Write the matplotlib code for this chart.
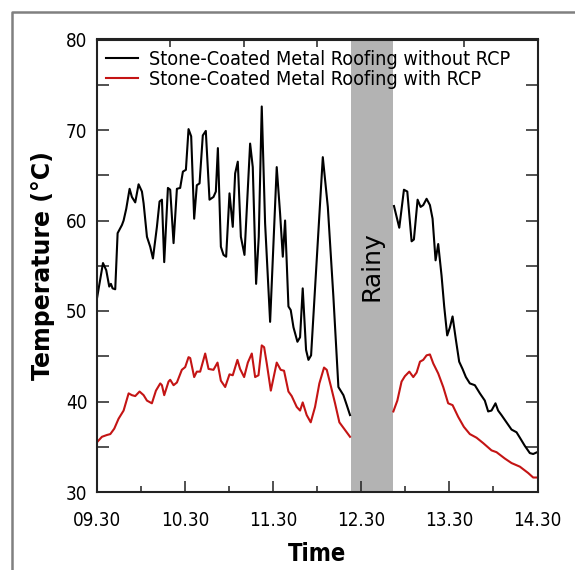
import matplotlib
matplotlib.use("Agg")
import matplotlib.pyplot as plt
from matplotlib.lines import Line2D
from matplotlib.ticker import MultipleLocator
import matplotlib.transforms as mtrans

# ---- data (time in decimal hours, 9.5 = 09.30) ----
start_hour = 9.5
black1_h = [0.000, 0.068, 0.105, 0.139, 0.158, 0.177, 0.207, 0.234, 0.283, 0.302, 0.332, 0.370,
            0.396, 0.434, 0.472, 0.510, 0.529, 0.567, 0.604, 0.635, 0.680, 0.710, 0.737, 0.763,
            0.805, 0.831, 0.869, 0.907, 0.944, 0.975, 1.009, 1.039, 1.069, 1.103, 1.133, 1.164,
            1.201, 1.235, 1.277, 1.322, 1.349, 1.372, 1.406, 1.436, 1.466, 1.504, 1.541, 1.568,
            1.598, 1.633, 1.674, 1.738, 1.768, 1.806, 1.836, 1.870, 1.908, 1.965, 2.040, 2.078,
            2.109, 2.135, 2.173, 2.199, 2.230, 2.275, 2.305, 2.335, 2.373, 2.400, 2.430, 2.487,
            2.563, 2.620, 2.683, 2.740, 2.797, 2.835, 2.872]
black1_T = [51.4, 55.3, 54.5, 52.7, 53.0, 52.5, 52.4, 58.6, 59.5, 60.0, 61.3, 63.5,
            62.6, 62.0, 64.0, 63.2, 61.9, 58.2, 57.1, 55.8, 59.3, 62.1, 62.3, 55.4,
            63.6, 63.4, 57.5, 63.5, 63.6, 65.4, 65.6, 70.1, 69.3, 60.2, 63.9, 64.1,
            69.4, 69.9, 62.3, 62.6, 63.2, 68.0, 57.1, 56.2, 56.0, 63.0, 59.3, 65.2,
            66.5, 58.2, 56.2, 68.5, 65.9, 53.0, 58.2, 72.6, 59.7, 48.8, 65.9, 60.8,
            56.0, 60.0, 50.5, 50.1, 48.2, 46.6, 47.1, 52.5, 45.7, 44.6, 45.1, 54.5,
            67.0, 61.5, 51.6, 41.6, 40.7, 39.6, 38.5]
black2_h = [3.371, 3.431, 3.484, 3.522, 3.571, 3.597, 3.639, 3.673, 3.703, 3.741, 3.779, 3.809,
            3.843, 3.873, 3.911, 3.941, 3.975, 4.006, 4.036, 4.074, 4.111, 4.149, 4.187, 4.232,
            4.289, 4.346, 4.402, 4.440, 4.478, 4.523, 4.553, 4.591, 4.648, 4.705, 4.762, 4.800,
            4.856, 4.913, 4.951, 4.996]
black2_T = [61.6, 59.2, 63.4, 63.2, 57.7, 57.9, 62.3, 61.5, 61.7, 62.4, 61.7, 60.2,
            55.6, 57.4, 53.9, 50.5, 47.3, 48.2, 49.4, 46.8, 44.4, 43.6, 42.7, 42.0,
            41.8, 40.9, 40.1, 38.9, 39.0, 39.8, 39.0, 38.5, 37.7, 36.9, 36.6, 36.0,
            35.1, 34.3, 34.2, 34.4]
red1_h = [0.000, 0.056, 0.113, 0.151, 0.196, 0.245, 0.302, 0.359, 0.396, 0.434, 0.483, 0.529,
          0.567, 0.623, 0.669, 0.718, 0.737, 0.763, 0.812, 0.831, 0.869, 0.907, 0.963, 1.001,
          1.039, 1.058, 1.103, 1.133, 1.171, 1.228, 1.266, 1.322, 1.368, 1.406, 1.455, 1.504,
          1.541, 1.594, 1.624, 1.670, 1.712, 1.757, 1.795, 1.833, 1.870, 1.897, 1.927, 1.973,
          2.040, 2.085, 2.123, 2.173, 2.210, 2.267, 2.305, 2.335, 2.380, 2.426, 2.475, 2.524,
          2.577, 2.608, 2.657, 2.702, 2.751, 2.804, 2.872]
red1_T = [35.5, 36.1, 36.3, 36.4, 37.0, 38.1, 39.0, 40.9, 40.7, 40.6, 41.1, 40.7,
          40.1, 39.8, 41.2, 42.0, 41.8, 40.7, 42.2, 42.4, 41.8, 42.1, 43.5, 43.8,
          44.9, 44.8, 42.7, 43.3, 43.3, 45.3, 43.6, 43.5, 44.3, 42.3, 41.6, 43.0,
          42.9, 44.6, 43.6, 42.7, 44.3, 45.3, 42.7, 42.9, 46.2, 46.0, 44.2, 41.2,
          44.3, 43.5, 43.4, 41.1, 40.6, 39.4, 39.0, 39.9, 38.5, 37.7, 39.4, 42.0,
          43.75, 43.5, 41.6, 39.8, 37.7, 37.0, 36.1]
red2_h = [3.364, 3.409, 3.457, 3.495, 3.545, 3.590, 3.628, 3.666, 3.703, 3.741, 3.779, 3.817,
          3.873, 3.930, 3.986, 4.036, 4.100, 4.164, 4.232, 4.308, 4.384, 4.478, 4.535, 4.629,
          4.705, 4.800, 4.894, 4.951, 4.996]
red2_T = [38.9, 40.1, 42.2, 42.8, 43.3, 42.7, 43.2, 44.4, 44.6, 45.1, 45.2, 44.2,
          43.1, 41.6, 39.8, 39.6, 38.3, 37.2, 36.4, 36.0, 35.4, 34.6, 34.4, 33.7,
          33.2, 32.8, 32.1, 31.6, 31.6]

rainy_span = [12.38, 12.86]
xtick_vals = [9.5, 10.5, 11.5, 12.5, 13.5, 14.5]
xtick_labels = ["09.30", "10.30", "11.30", "12.30", "13.30", "14.30"]
series_labels = ["Stone-Coated Metal Roofing without RCP", "Stone-Coated Metal Roofing with RCP"]
BLACK = "#000000"
RED = "#c41414"

def to_t(hs):
    return [start_hour + h for h in hs]

fig = plt.figure(figsize=(5.75, 5.70), dpi=100)
ax = fig.add_axes([97/575, 1 - 492/570, 440.5/575, 452.5/570])

ax.axvspan(rainy_span[0], rainy_span[1], color="#b3b3b3", lw=0, zorder=1)
ax.text((rainy_span[0] + rainy_span[1]) / 2, 0.5, "Rainy", rotation=90,
        ha="center", va="center", fontsize=18, family="DejaVu Sans",
        transform=mtrans.blended_transform_factory(ax.transData, ax.transAxes), zorder=3)

lw = 1.5
ax.plot(to_t(black1_h), black1_T, color=BLACK, lw=lw, label=series_labels[0], zorder=4)
ax.plot(to_t(black2_h), black2_T, color=BLACK, lw=lw, zorder=4)
ax.plot(to_t(red1_h), red1_T, color=RED, lw=lw, label=series_labels[1], zorder=4)
ax.plot(to_t(red2_h), red2_T, color=RED, lw=lw, zorder=4)

ax.set_xlim(9.5, 14.5)
ax.set_ylim(30, 80)
ax.set_xticks(xtick_vals)
ax.set_xticklabels(xtick_labels)
ax.xaxis.set_minor_locator(MultipleLocator(0.5))
ax.yaxis.set_major_locator(MultipleLocator(10))
ax.yaxis.set_minor_locator(MultipleLocator(5))

spine_c = "#222222"
for s in ax.spines.values():
    s.set_linewidth(1.5)
    s.set_color(spine_c)
    s.set_zorder(5)

ax.tick_params(axis="x", which="major", direction="in", length=8, width=1.1, top=False,
               bottom=True, pad=14, labelsize=13.5, color=spine_c)
ax.tick_params(axis="x", which="minor", direction="in", length=4.3, width=1.1, top=False,
               bottom=True, color=spine_c)
ax.tick_params(axis="y", which="both", direction="in", length=8.5, width=1.1, left=True,
               right=True, pad=7, labelsize=13.5, color=spine_c)
for lab in ax.get_xticklabels() + ax.get_yticklabels():
    lab.set_fontstretch("condensed")

sec = ax.secondary_xaxis("top")
sec.set_xticks([9.5 + k * 5 / 6 for k in range(1, 6)])
sec.set_xticklabels([])
sec.tick_params(direction="in", length=6, width=1.1, color=spine_c)
sec.spines["top"].set_linewidth(1.5)
sec.spines["top"].set_color(spine_c)

ax.set_xlabel("Time", fontsize=17, fontweight="bold", fontstretch="condensed", labelpad=8)
ax.set_ylabel("Temperature (°C)", fontsize=17, fontweight="bold", labelpad=8)

leg = ax.legend(loc="upper left", bbox_to_anchor=(7/440.5, 1 - 8.5/452.5), borderaxespad=0,
                frameon=True, fancybox=False, framealpha=0, edgecolor="#111111",
                prop={"size": 14.2, "stretch": "condensed"}, handlelength=1.6,
                handletextpad=0.55, labelspacing=0.05, borderpad=0.12)
leg.get_frame().set_linewidth(1.3)
leg.set_zorder(6)

# outer frame (left and top edges visible)
fig.add_artist(Line2D([12/575, 12/575, 1.0], [0.0, 1 - 11.5/570, 1 - 11.5/570],
                      transform=fig.transFigure, color="#808080", lw=1.8))

fig.savefig("out.png", dpi=100)
